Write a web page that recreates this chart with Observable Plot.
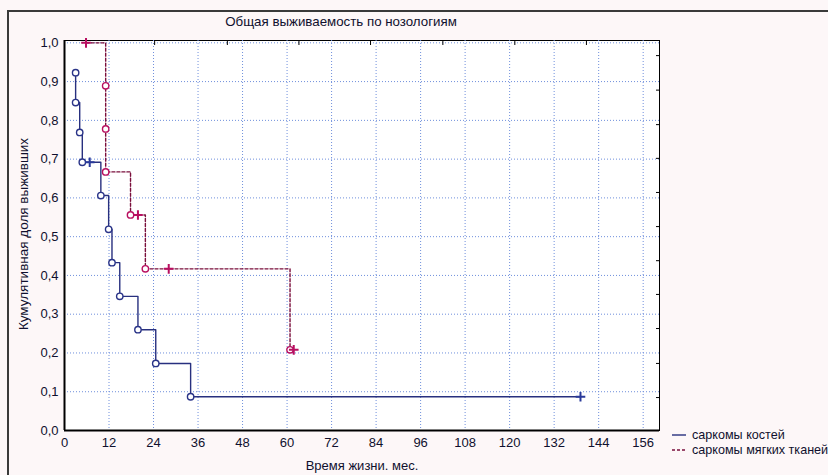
<!DOCTYPE html>
<html>
<head>
<meta charset="utf-8">
<script src="https://cdn.jsdelivr.net/npm/d3@7"></script>
<script src="https://cdn.jsdelivr.net/npm/@observablehq/plot@0.6"></script>
<style>
  html, body { margin: 0; padding: 0; background: #fdf7f8; overflow: hidden; }
  #wrap { position: relative; width: 828px; height: 475px; font-family: "Liberation Sans", Arial, sans-serif; color: #10102e; }
  #border { position: absolute; left: 7px; top: 10px; width: 830px; height: 470px; border-left: 2px solid #3a3a3a; border-top: 2px solid #3a3a3a; box-sizing: border-box; }
  #chart { position: absolute; left: 0; top: 0; }
  .txt { position: absolute; white-space: nowrap; font-size: 13px; }
  #title { left: 0; width: 682px; top: 14px; text-align: center; font-size: 13.3px; }
  #ylab { left: 23px; top: 234px; transform: translate(-50%, -50%) rotate(-90deg); font-size: 13.5px; }
  #xlab { left: 362px; top: 458px; transform: translateX(-50%); font-size: 13px; }
  .leg { left: 671px; font-size: 12.6px; display: flex; align-items: center; }
  .leg svg { margin-right: 5px; }
</style>
</head>
<body>
<div id="wrap">
  <div id="border"></div>
  <div id="chart"></div>
  <div class="txt" id="title">Общая выживаемость по нозологиям</div>
  <div class="txt" id="ylab">Кумулятивная доля выживших</div>
  <div class="txt" id="xlab">Время жизни. мес.</div>
  <div class="txt leg" style="top:428px"><svg width="16" height="4"><line x1="1" y1="2" x2="15" y2="2" stroke="#28307f" stroke-width="1.4"/></svg>саркомы костей</div>
  <div class="txt leg" style="top:443px"><svg width="16" height="4"><line x1="1" y1="2" x2="15" y2="2" stroke="#7a0f3c" stroke-width="1.4" stroke-dasharray="3,2"/></svg>саркомы мягких тканей</div>
</div>
<script>
// Bone sarcomas (Kaplan–Meier): time (months), survival, censored flag
const boneTime = [3.0, 3.0, 4.1, 4.8, 6.8, 9.8, 11.9, 12.8, 14.9, 19.8, 24.6, 34.0, 139.1];
const boneSurv = [0.923, 0.846, 0.769, 0.692, 0.692, 0.606, 0.519, 0.433, 0.346, 0.260, 0.173, 0.087, 0.087];
const boneCens = [0, 0, 0, 0, 1, 0, 0, 0, 0, 0, 0, 0, 1];

// Soft tissue sarcomas
const softTime = [5.8, 11.1, 11.1, 11.1, 17.8, 19.8, 21.8, 28.1, 60.8, 61.8];
const softSurv = [1.0, 0.889, 0.778, 0.667, 0.556, 0.556, 0.417, 0.417, 0.208, 0.208];
const softCens = [1, 0, 0, 0, 0, 1, 0, 1, 0, 1];

const xTicks = [0, 12, 24, 36, 48, 60, 72, 84, 96, 108, 120, 132, 144, 156];
const yTicks = [0, 0.1, 0.2, 0.3, 0.4, 0.5, 0.6, 0.7, 0.8, 0.9, 1.0];
// secondary (unlabelled) tick marks on top and right frame
const topTicks = [24.3, 43.9, 63.2, 82.5, 102.0, 121.4, 140.7];
const rightTicks = [0.085, 0.173, 0.263, 0.351, 0.438, 0.526, 0.614, 0.702, 0.789, 0.878, 0.967];

const bone = boneTime.map((t, i) => ({t, s: boneSurv[i], c: boneCens[i]}));
const soft = softTime.map((t, i) => ({t, s: softSurv[i], c: softCens[i]}));

const blue = "#28307f";
const red = "#7a0f3c";
const pink = "#b80f60";

const chart = Plot.plot({
  width: 828,
  height: 475,
  marginLeft: 64,
  marginRight: 169,
  marginTop: 40,
  marginBottom: 45,
  style: {background: "transparent", fontFamily: "Liberation Sans, Arial, sans-serif", fontSize: "13px", color: "#10102e"},
  x: {domain: [0, 160.4]},
  y: {domain: [0, 1.006]},
  marks: [
    Plot.frame({fill: "white", stroke: "black", strokeWidth: 1}),
    Plot.gridX(xTicks, {stroke: "#6f8fdc", strokeOpacity: 1, strokeDasharray: "1,2", strokeWidth: 1}),
    Plot.gridY(yTicks, {stroke: "#6f8fdc", strokeOpacity: 1, strokeDasharray: "1,2", strokeWidth: 1}),
    Plot.axisX({ticks: xTicks, tickSize: 0, tickPadding: 7, tickFormat: d => String(d), label: null, fill: "#10102e", stroke: "#10102e", strokeWidth: 0.35}),
    Plot.axisY({ticks: yTicks, tickSize: 0, tickPadding: 6, tickFormat: d => d.toFixed(1).replace(".", ","), label: null, fill: "#10102e", stroke: "#10102e", strokeWidth: 0.35}),
    Plot.axisX({anchor: "top", ticks: topTicks, tickSize: -4, tickFormat: () => "", label: null, stroke: "black"}),
    Plot.axisY({anchor: "right", ticks: rightTicks, tickSize: -4, tickFormat: () => "", label: null, stroke: "black"}),
    Plot.ruleX([0], {stroke: "black", strokeWidth: 2}),
    Plot.ruleY([0], {stroke: "black", strokeWidth: 2}),
    // curves
    Plot.line(bone, {x: "t", y: "s", curve: "step-after", stroke: blue, strokeWidth: 1.4}),
    Plot.line(soft, {x: "t", y: "s", curve: "step-after", stroke: red, strokeWidth: 1.4, strokeDasharray: "3,2"}),
    // event markers
    Plot.dot(bone.filter(d => !d.c), {x: "t", y: "s", r: 3.2, fill: "white", stroke: "#2a3488", strokeWidth: 1.4}),
    Plot.dot(soft.filter(d => !d.c), {x: "t", y: "s", r: 3.2, fill: "white", stroke: pink, strokeWidth: 1.4}),
    // censored markers
    Plot.dot(bone.filter(d => d.c), {x: "t", y: "s", symbol: "plus", r: 3.2, stroke: "#2a3a9a", strokeWidth: 2}),
    Plot.dot(soft.filter(d => d.c), {x: "t", y: "s", symbol: "plus", r: 3.2, stroke: pink, strokeWidth: 2})
  ]
});
document.getElementById("chart").appendChild(chart);
</script>
</body>
</html>
